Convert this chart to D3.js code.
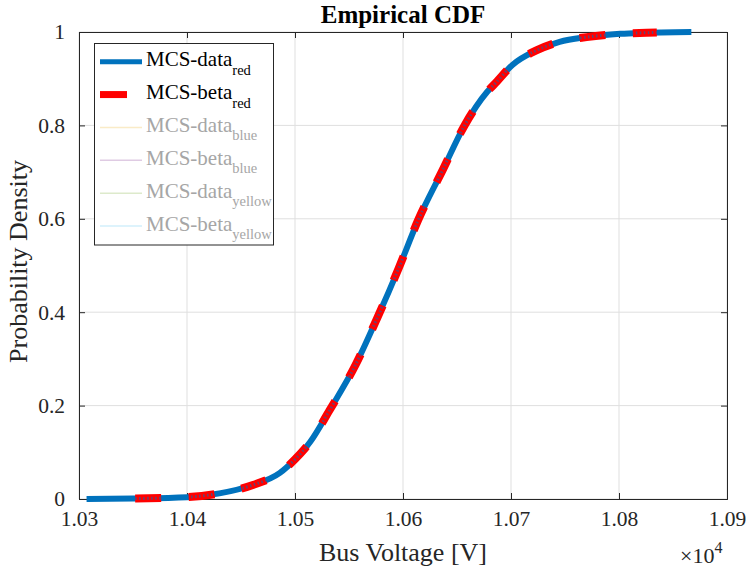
<!DOCTYPE html>
<html>
<head>
<meta charset="utf-8">
<script src="https://cdn.jsdelivr.net/npm/d3@7"></script>
<style>
  html, body { margin: 0; padding: 0; background: #fff; }
  svg { display: block; font-family: "Liberation Serif", "Times New Roman", serif; }
</style>
</head>
<body>
<svg id="chart" width="750" height="572"></svg>
<script>
// Empirical CDF of bus voltage (volts) from the Monte Carlo samples
const dataVoltage = [10307, 10350, 10400, 10430, 10461, 10486, 10500, 10514, 10532, 10556,
  10576, 10596, 10614, 10636, 10657, 10678, 10687, 10701, 10724, 10745, 10770, 10801, 10819, 10867];
const dataProb = [0.000, 0.001, 0.004, 0.012, 0.030, 0.056, 0.085, 0.122, 0.190, 0.287,
  0.387, 0.494, 0.597, 0.701, 0.800, 0.872, 0.894, 0.929, 0.961, 0.979, 0.989, 0.996, 0.998, 1.000];

// Fitted beta CDF over the same range
const betaVoltage = [10352, 10400, 10430, 10461, 10486, 10500, 10514, 10532, 10556,
  10576, 10596, 10614, 10636, 10657, 10678, 10687, 10701, 10724, 10745, 10770, 10801, 10819, 10835];
const betaProb = [0.001, 0.004, 0.012, 0.030, 0.056, 0.085, 0.122, 0.190, 0.287,
  0.387, 0.494, 0.597, 0.701, 0.800, 0.872, 0.894, 0.929, 0.961, 0.979, 0.989, 0.996, 0.998, 0.999];

const xTicks = [10300, 10400, 10500, 10600, 10700, 10800, 10900];
const xTickLabels = ["1.03", "1.04", "1.05", "1.06", "1.07", "1.08", "1.09"];
const yTicks = [0, 0.2, 0.4, 0.6, 0.8, 1];
const yTickLabels = ["0", "0.2", "0.4", "0.6", "0.8", "1"];

const legendNames = ["MCS-data", "MCS-beta", "MCS-data", "MCS-beta", "MCS-data", "MCS-beta"];
const legendSubs = ["red", "red", "blue", "blue", "yellow", "yellow"];

const svg = d3.select("#chart");
const m = { left: 79, top: 32, right: 23, bottom: 73 };
const W = 750 - m.left - m.right;
const H = 572 - m.top - m.bottom;

const x = d3.scaleLinear().domain([10300, 10900]).range([m.left, m.left + W]);
const y = d3.scaleLinear().domain([0, 1]).range([m.top + H, m.top]);

const axisColor = "#262626";
const gridColor = "#dfdfdf";

// grid
const grid = svg.append("g");
grid.selectAll(".gx").data(xTicks).join("line")
  .attr("x1", d => x(d)).attr("x2", d => x(d))
  .attr("y1", m.top).attr("y2", m.top + H)
  .attr("stroke", gridColor).attr("stroke-width", 1);
grid.selectAll(".gy").data(yTicks).join("line")
  .attr("x1", m.left).attr("x2", m.left + W)
  .attr("y1", d => y(d)).attr("y2", d => y(d))
  .attr("stroke", gridColor).attr("stroke-width", 1);

// axes (inward ticks on all four sides)
const tickLen = 6;
const xAxisB = d3.axisBottom(x).tickValues(xTicks).tickSize(-tickLen).tickFormat((d, i) => xTickLabels[i]).tickPadding(12);
const xAxisT = d3.axisTop(x).tickValues(xTicks).tickSize(-tickLen).tickFormat("");
const yAxisL = d3.axisLeft(y).tickValues(yTicks).tickSize(-tickLen).tickFormat((d, i) => yTickLabels[i]).tickPadding(14);
const yAxisR = d3.axisRight(y).tickValues(yTicks).tickSize(-tickLen).tickFormat("");

function styleAxis(g) {
  g.select(".domain").attr("stroke", axisColor).attr("stroke-width", 1);
  g.selectAll(".tick line").attr("stroke", axisColor);
  g.selectAll(".tick text").attr("fill", axisColor)
    .style("font-family", '"Liberation Serif", "Times New Roman", serif').style("font-size", "21.5px");
}
svg.append("g").attr("transform", `translate(0,${m.top + H})`).call(xAxisB).call(styleAxis);
svg.append("g").attr("transform", `translate(0,${m.top})`).call(xAxisT).call(styleAxis);
svg.append("g").attr("transform", `translate(${m.left},0)`).call(yAxisL).call(styleAxis);
svg.append("g").attr("transform", `translate(${m.left + W},0)`).call(yAxisR).call(styleAxis);

// curves
const line = d3.line().x(d => x(d[0])).y(d => y(d[1])).curve(d3.curveMonotoneX);
const dataPts = dataVoltage.map((v, i) => [v, dataProb[i]]);
const betaPts = betaVoltage.map((v, i) => [v, betaProb[i]]);

svg.append("path").attr("d", line(dataPts))
  .attr("fill", "none").attr("stroke", "#0072BD").attr("stroke-width", 6);

const dash = "26,27.5";
const defs = svg.append("defs");
defs.append("mask").attr("id", "betaMask")
  .attr("maskUnits", "userSpaceOnUse").attr("x", 0).attr("y", 0).attr("width", 750).attr("height", 572)
  .append("path").attr("d", line(betaPts))
  .attr("fill", "none").attr("stroke", "#fff").attr("stroke-width", 8).attr("stroke-dasharray", dash);

svg.append("path").attr("d", line(betaPts))
  .attr("fill", "none").attr("stroke", "#ff0000").attr("stroke-width", 8)
  .attr("stroke-dasharray", dash);
// fine speckle where the beta dashes overlap the data curve
svg.append("path").attr("d", line(betaPts))
  .attr("mask", "url(#betaMask)")
  .attr("fill", "none").attr("stroke", "#0072BD").attr("stroke-width", 3)
  .attr("stroke-dasharray", "1.5,2.5").attr("opacity", 0.6);

// title and axis labels
svg.append("text").attr("x", m.left + W / 2).attr("y", 23)
  .attr("text-anchor", "middle").attr("font-weight", "bold").attr("font-size", 25)
  .attr("fill", "#000").text("Empirical CDF");
svg.append("text").attr("x", m.left + W / 2).attr("y", 561)
  .attr("text-anchor", "middle").attr("font-size", 26).attr("fill", axisColor)
  .text("Bus Voltage [V]");
svg.append("text").attr("transform", `translate(27,${m.top + H / 2 - 4}) rotate(-90)`)
  .attr("text-anchor", "middle").attr("font-size", 26).attr("fill", axisColor)
  .text("Probability Density");
const expo = svg.append("text").attr("x", 680).attr("y", 563).attr("font-size", 22).attr("fill", axisColor);
expo.append("tspan").text("\u00d710");
expo.append("tspan").attr("dy", -10).attr("font-size", 16).text("4");

// legend
const lg = svg.append("g");
lg.append("rect").attr("x", 94.5).attr("y", 43.5).attr("width", 179).attr("height", 201.5)
  .attr("fill", "#fff").attr("stroke", axisColor).attr("stroke-width", 1);
const legendStyles = [
  { color: "#0072BD", width: 5, len: 42, opacity: 1, text: "#000" },
  { color: "#ff0000", width: 7, len: 27, opacity: 1, text: "#000" },
  { color: "#EDB120", width: 1.5, len: 42, opacity: 0.25, text: "#a6a6a6" },
  { color: "#7E2F8E", width: 1.5, len: 42, opacity: 0.25, text: "#a6a6a6" },
  { color: "#77AC30", width: 1.5, len: 42, opacity: 0.25, text: "#a6a6a6" },
  { color: "#4DBEEE", width: 1.5, len: 42, opacity: 0.25, text: "#a6a6a6" }
];
legendNames.forEach((name, i) => {
  const cy = 61.7 + i * 32.86;
  const s = legendStyles[i];
  lg.append("line").attr("x1", 100).attr("x2", 100 + s.len).attr("y1", cy).attr("y2", cy)
    .attr("stroke", s.color).attr("stroke-width", s.width).attr("stroke-opacity", s.opacity);
  const t = lg.append("text").attr("x", 146).attr("y", cy + 4.5).attr("font-size", 21).attr("fill", s.text);
  t.append("tspan").text(name);
  t.append("tspan").attr("dy", 8.5).attr("font-size", 14.5).text(legendSubs[i]);
});
</script>
</body>
</html>
